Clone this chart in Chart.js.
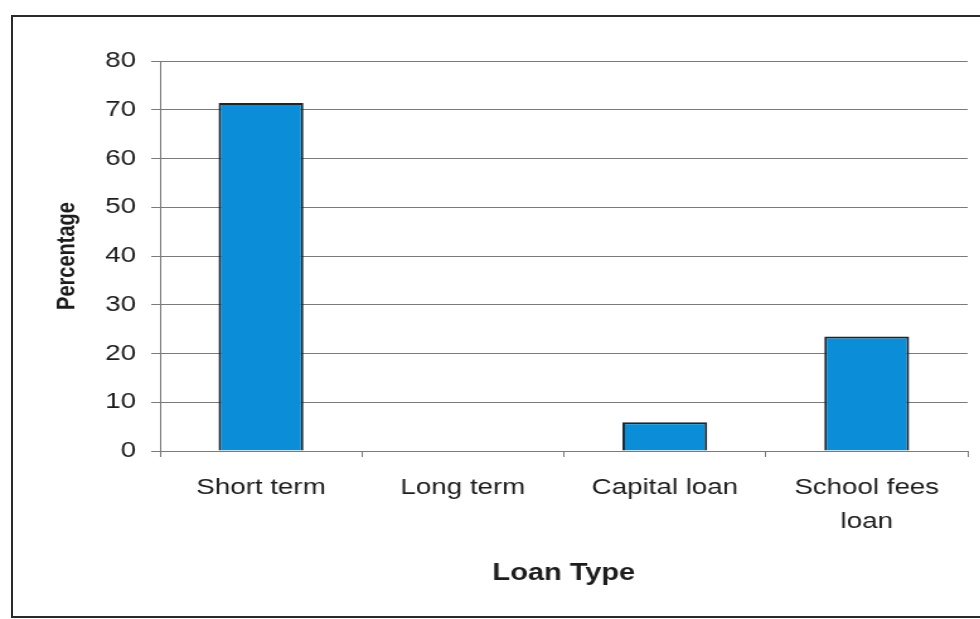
<!DOCTYPE html>
<html>
<head>
<meta charset="utf-8">
<title>Loan Type</title>
<script src="https://cdn.jsdelivr.net/npm/chart.js@4.4.1/dist/chart.umd.min.js"></script>
<style>
  html, body { margin: 0; padding: 0; background: #fff; overflow: hidden; }
  body { width: 980px; height: 619px; position: relative; }
  #frame {
    position: absolute; left: 11px; top: 15px;
    width: 969px; height: 599px;
    border: 2px solid #2a2a2a; border-right: none;
  }
  /* the chart is drawn narrow and widened, so the lettering comes out broad */
  #chart {
    position: absolute; left: 0; top: 0;
    transform: scaleX(1.26); transform-origin: 0 0;
  }
</style>
</head>
<body>
<div id="frame"></div>
<canvas id="chart" width="778" height="619"></canvas>
<script>
;(function()
{
	'use strict';

	var categories = [['Short term'], ['Long term'], ['Capital loan'], ['School fees', 'loan']],
		percentages = [71.4, 0, 5.9, 23.5],
		yTicks = [0, 10, 20, 30, 40, 50, 60, 70, 80];

	var ink  = '#1c1c1c',
		rule = '#7a7a7a',
		font = '"Liberation Sans", Arial, sans-serif';

	Chart.defaults.font.family = font;
	Chart.defaults.color = ink;

	new Chart(document.getElementById('chart').getContext('2d'), {
		type: 'bar',
		data: {
			labels: categories,
			datasets: [{
				label: 'Percentage',
				data: percentages,
				backgroundColor: '#0b8ed7',
				borderColor: '#1a262d',
				borderWidth: 2,
				categoryPercentage: 1,
				barPercentage: 0.42
			}]
		},
		options: {
			responsive: false,
			animation: false,
			layout: { padding: { top: 61, left: 0, right: 10, bottom: 0 } },
			plugins: {
				legend: { display: false },
				tooltip: { enabled: false }
			},
			scales: {
				x: {
					offset: true,
					grid: { drawOnChartArea: false, drawTicks: true, tickLength: 6, color: rule, offset: true },
					border: { color: rule, width: 1 },
					ticks: {
						font: { size: 22, lineHeight: 1.55 },
						color: ink, padding: 14, maxRotation: 0, autoSkip: false
					},
					title: {
						display: true, text: 'Loan Type', color: ink,
						font: { size: 23, weight: 'bold' },
						padding: { top: 0, bottom: 32 }
					},
					afterFit: function(scale) { scale.height = 168; }
				},
				y: {
					min: yTicks[0],
					max: yTicks[yTicks.length - 1],
					afterBuildTicks: function(scale) {
						scale.ticks = yTicks.map(function(v) { return { value: v }; });
					},
					grid: { color: rule, tickLength: 7, lineWidth: 1 },
					border: { color: rule, width: 1 },
					ticks: { font: { size: 22 }, color: ink, padding: 12 },
					title: {
						display: true, text: 'Percentage', color: ink,
						font: { size: 20, weight: 'bold' },
						padding: { top: 41, bottom: 0 }
					},
					afterFit: function(scale) { scale.width = 127; }
				}
			}
		}
	});
})();
</script>
</body>
</html>
